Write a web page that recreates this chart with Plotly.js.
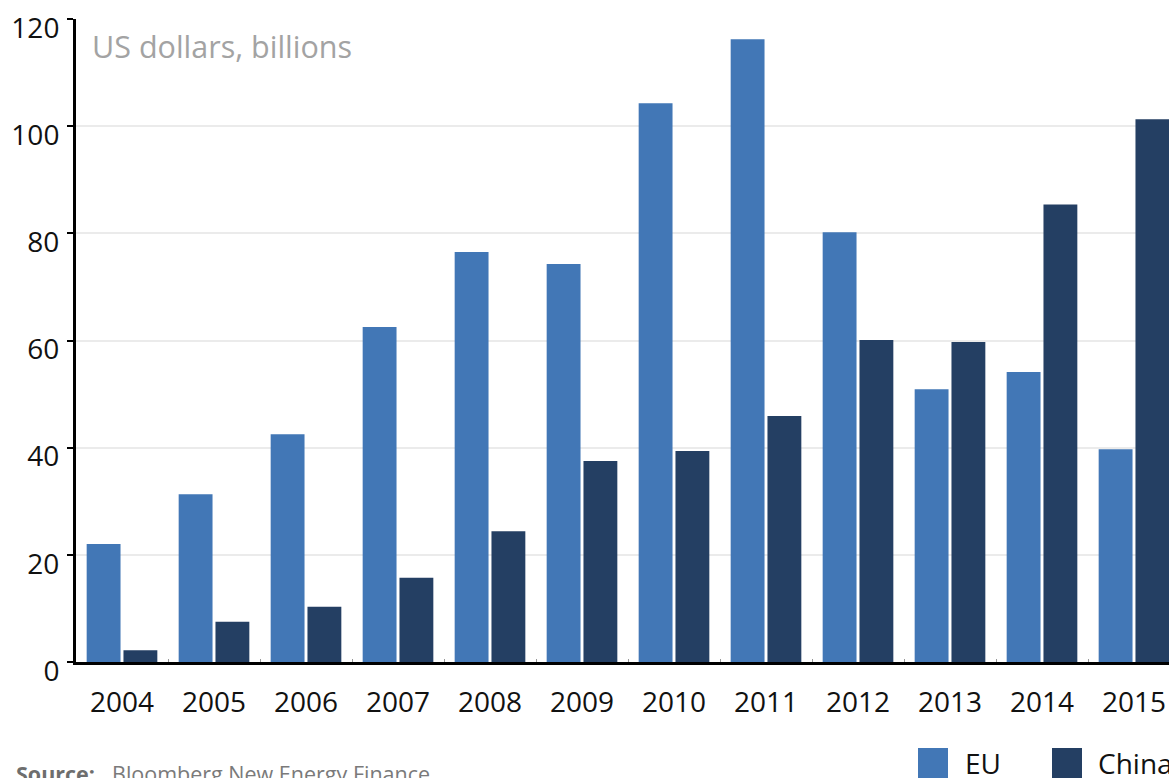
<!DOCTYPE html>
<html>
<head>
<meta charset="utf-8">
<script src="https://cdn.plot.ly/plotly-3.0.1.min.js"></script>
<style>
  html, body { margin: 0; padding: 0; overflow: hidden; background: #fff; }
  #chart { width: 1200px; height: 800px; }
</style>
</head>
<body>
<div id="chart"></div>
<script>
const years = ['2004','2005','2006','2007','2008','2009','2010','2011','2012','2013','2014','2015'];
const euValues = [22.0, 31.3, 42.5, 62.5, 76.5, 74.3, 104.3, 116.2, 80.2, 50.9, 54.1, 39.7];
const chinaValues = [2.2, 7.5, 10.3, 15.7, 24.4, 37.5, 39.4, 45.9, 60.1, 59.7, 85.4, 101.3];
const seriesNames = ['EU', 'China'];
const seriesColors = ['#4277b6', '#243f63'];
const yTicks = [0, 20, 40, 60, 80, 100, 120];
const unitLabel = 'US dollars, billions';
const sourceLabel = 'Source:';
const sourceText = 'Bloomberg New Energy Finance';

const W = 1200, H = 800;
const L = 76, R = 20, T = 19, B = 138;
const pw = W - L - R, ph = H - T - B;
const px = x => (x - L) / pw;
const py = y => (H - B - y) / ph;

const font = "'Open Sans', 'Noto Sans', sans-serif";

const traces = [
  { type: 'bar', name: seriesNames[0], x: years, y: euValues, marker: { color: seriesColors[0] }, hoverinfo: 'x+y+name' },
  { type: 'bar', name: seriesNames[1], x: years, y: chinaValues, marker: { color: seriesColors[1] }, hoverinfo: 'x+y+name' }
];

const legendShapes = [];
const legendAnn = [];
const legX = [918, 1052];
const legTextX = [963, 1096];
for (let i = 0; i < 2; i++) {
  legendShapes.push({ type: 'rect', xref: 'paper', yref: 'paper',
    x0: px(legX[i]), x1: px(legX[i] + 30), y0: py(778), y1: py(748),
    fillcolor: seriesColors[i], line: { width: 0 } });
  legendAnn.push({ xref: 'paper', yref: 'paper', x: px(legTextX[i]), y: py(742),
    xanchor: 'left', yanchor: 'top', showarrow: false, text: seriesNames[i],
    font: { family: font, size: 28, color: '#111' } });
}

const layout = {
  width: W, height: H,
  margin: { l: L, r: R, t: T, b: B, pad: 0 },
  paper_bgcolor: '#fff', plot_bgcolor: '#fff',
  showlegend: false,
  barmode: 'group', bargap: 0.2, bargroupgap: 0.08,
  font: { family: font, size: 28, color: '#111' },
  xaxis: {
    type: 'category', range: [-0.5, 11.5], fixedrange: true,
    showline: true, linecolor: '#000', linewidth: 3,
    ticks: 'inside', tickson: 'boundaries', ticklen: 3, tickcolor: '#999', tickwidth: 1,
    showgrid: false, ticklabelstandoff: 13,
    tickfont: { family: font, size: 28, color: '#111' }
  },
  yaxis: {
    range: [0, 120], tickvals: yTicks, fixedrange: true,
    showline: true, linecolor: '#000', linewidth: 3,
    ticks: 'outside', ticklen: 6, tickcolor: '#000', tickwidth: 2,
    showgrid: true, gridcolor: '#ebebeb', gridwidth: 2,
    zeroline: false, ticklabelstandoff: 2, ticklabelshift: 9,
    tickfont: { family: font, size: 28, color: '#111' }
  },
  shapes: legendShapes,
  annotations: [
    { xref: 'paper', yref: 'paper', x: px(90), y: py(23), xanchor: 'left', yanchor: 'top',
      showarrow: false, text: unitLabel, font: { family: font, size: 30.5, color: '#a3a3a3' } },
    { xref: 'paper', yref: 'paper', x: px(14), y: py(757), xanchor: 'left', yanchor: 'top',
      showarrow: false, text: '<b>' + sourceLabel + '</b>', font: { family: font, size: 21.5, color: '#6e6e6e' } },
    { xref: 'paper', yref: 'paper', x: px(110), y: py(757), xanchor: 'left', yanchor: 'top',
      showarrow: false, text: sourceText, font: { family: font, size: 21.5, color: '#7a7a7a' } }
  ].concat(legendAnn)
};

Plotly.newPlot('chart', traces, layout, { displayModeBar: false, staticPlot: true });
</script>
</body>
</html>
